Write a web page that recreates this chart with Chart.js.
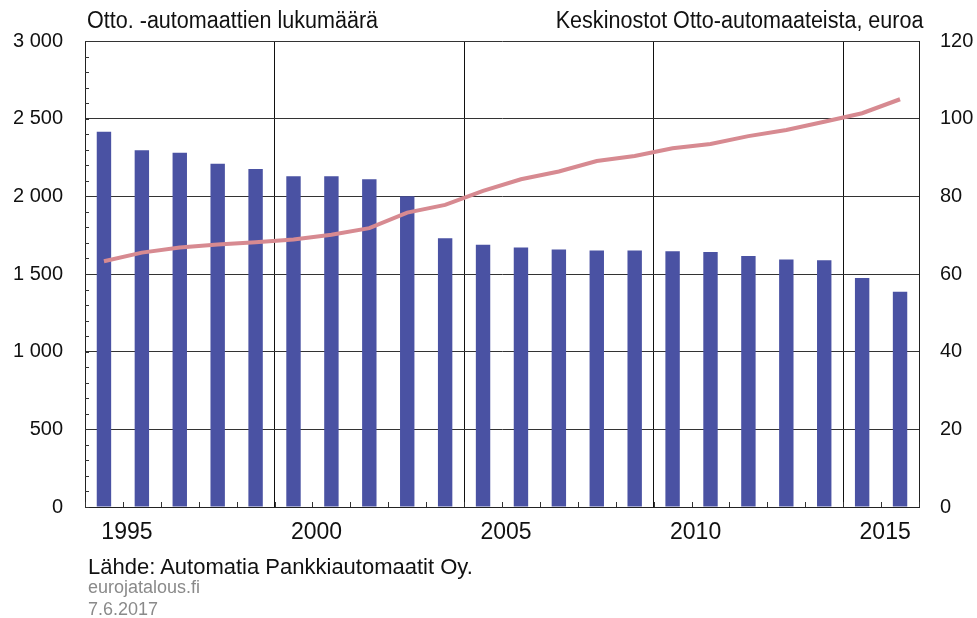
<!DOCTYPE html>
<html>
<head>
<meta charset="utf-8">
<script src="https://cdn.jsdelivr.net/npm/chart.js@4.4.1/dist/chart.umd.min.js"></script>
<style>
  html, body { margin: 0; padding: 0; background: #fff; }
  #wrap { position: relative; width: 977px; height: 618px; font-family: "Liberation Sans", Arial, sans-serif; }
  canvas { position: absolute; left: 0; top: 0; }
  .t { position: absolute; white-space: nowrap; color: #111; line-height: 1; }
</style>
</head>
<body>
<div id="wrap">
  <canvas id="c" width="977" height="618"></canvas>
  <div class="t" style="left:87px; top:9px; font-size:23px; transform:scaleX(0.937); transform-origin:left top;">Otto. -automaattien lukumäärä</div>
  <div class="t" style="right:54px; top:9px; font-size:23px; transform:scaleX(0.937); transform-origin:right top;">Keskinostot Otto-automaateista, euroa</div>
  <div class="t" style="left:88px; top:556px; font-size:22px;">Lähde: Automatia Pankkiautomaatit Oy.</div>
  <div class="t" style="left:88px; top:578px; font-size:18px; color:#8a8a8a;">eurojatalous.fi</div>
  <div class="t" style="left:88px; top:600px; font-size:18px; color:#8a8a8a;">7.6.2017</div>
</div>
<script>
const years = [1995,1996,1997,1998,1999,2000,2001,2002,2003,2004,2005,2006,2007,2008,2009,2010,2011,2012,2013,2014,2015,2016];
const atmCounts = [2416,2296,2281,2210,2176,2129,2129,2110,2000,1730,1689,1670,1657,1652,1652,1646,1642,1616,1594,1588,1474,1386];
const avgWithdrawal = [63.3,65.5,66.8,67.6,68.2,68.9,70.1,71.8,75.8,77.8,81.4,84.4,86.4,89.1,90.4,92.4,93.5,95.5,97.1,99.2,101.4,105.0];
const yearLabels = [1995,2000,2005,2010,2015];
const leftTicks = [0,500,1000,1500,2000,2500,3000];
const rightTicks = [0,20,40,60,80,100,120];

const FONT = "'Liberation Sans', Arial, sans-serif";
const fmt = v => String(v).replace(/\B(?=(\d{3})+(?!\d))/g, ' ');

const minorTicks = {
  id: 'minorTicks',
  afterDraw(chart) {
    const ctx = chart.ctx;
    const x = chart.scales.x, y = chart.scales.y;
    const a = chart.chartArea;
    ctx.save();
    ctx.strokeStyle = '#333';
    ctx.lineWidth = 1;
    ctx.beginPath();
    for (let i = 0; i <= years.length; i++) {
      const px = Math.round(x.getPixelForValue(i - 0.5)) + 0.5;
      ctx.moveTo(px, a.bottom);
      ctx.lineTo(px, a.bottom - 5);
    }
    for (let v = 0; v <= 3000; v += 100) {
      const py = Math.round(y.getPixelForValue(v)) + 0.5;
      ctx.moveTo(a.left, py);
      ctx.lineTo(a.left + 4, py);
    }
    ctx.stroke();
    ctx.restore();
  }
};

new Chart(document.getElementById('c'), {
  data: {
    labels: years,
    datasets: [
      {
        type: 'line',
        data: avgWithdrawal,
        yAxisID: 'y1',
        borderColor: '#d78a91',
        borderWidth: 4,
        pointRadius: 0,
        tension: 0,
        order: 0
      },
      {
        type: 'bar',
        data: atmCounts,
        yAxisID: 'y',
        backgroundColor: '#4a52a3',
        borderWidth: 0,
        categoryPercentage: 1,
        barPercentage: 0.38,
        order: 1
      }
    ]
  },
  options: {
    responsive: false,
    animation: false,
    devicePixelRatio: 1,
    layout: { padding: { top: 41, left: 0, right: 0, bottom: 0 } },
    plugins: { legend: { display: false }, tooltip: { enabled: false }, title: { display: false } },
    scales: {
      x: {
        type: 'category',
        offset: true,
        grid: {
          offset: true,
          drawTicks: false,
          color: ctx => (ctx.index % 5 === 0) ? '#111' : 'rgba(0,0,0,0)',
          lineWidth: 1
        },
        border: { display: true, color: '#222', width: 1 },
        ticks: {
          autoSkip: false,
          maxRotation: 0,
          padding: 12,
          labelOffset: 23,
          color: '#111',
          font: { family: FONT, size: 23 },
          callback: (v, i) => yearLabels.includes(years[i]) ? String(years[i]) : ''
        },
        afterFit: s => { s.height = 111; }
      },
      y: {
        position: 'left',
        min: 0, max: 3000,
        afterBuildTicks: s => { s.ticks = leftTicks.map(v => ({ value: v })); },
        grid: { drawTicks: false, color: '#333', lineWidth: 1 },
        border: { display: true, color: '#222', width: 1 },
        ticks: {
          padding: 22,
          color: '#111',
          font: { family: FONT, size: 20 },
          callback: v => fmt(v)
        },
        afterFit: s => { s.width = 85; }
      },
      y1: {
        position: 'right',
        min: 0, max: 120,
        afterBuildTicks: s => { s.ticks = rightTicks.map(v => ({ value: v })); },
        grid: { display: false, drawTicks: false },
        border: { display: true, color: '#222', width: 1 },
        ticks: {
          padding: 21,
          color: '#111',
          font: { family: FONT, size: 20 }
        },
        afterFit: s => { s.width = 58; }
      }
    }
  },
  plugins: [minorTicks]
});
</script>
</body>
</html>
